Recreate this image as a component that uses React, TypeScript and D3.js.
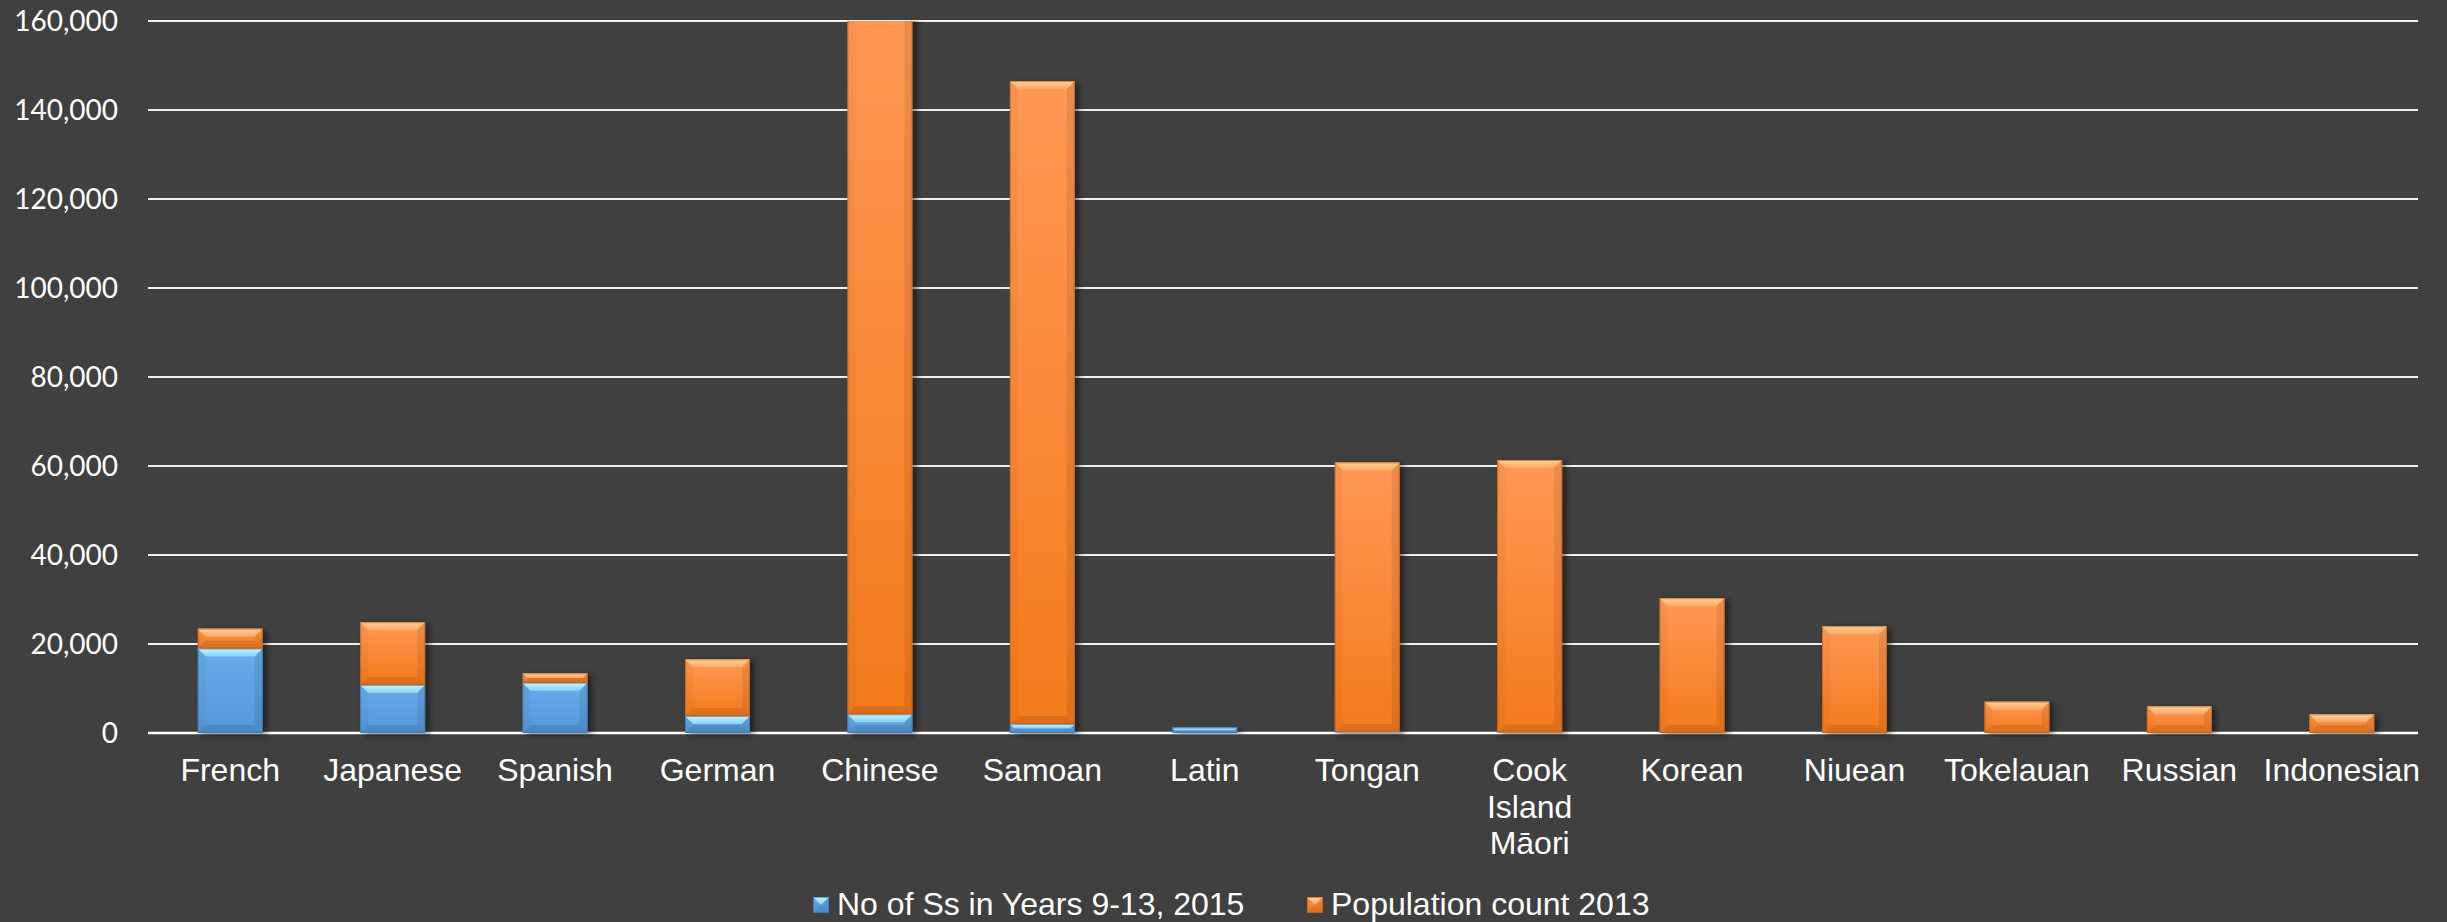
import React from "react";
import * as d3 from "d3";

const categories = [
  "French",
  "Japanese",
  "Spanish",
  "German",
  "Chinese",
  "Samoan",
  "Latin",
  "Tongan",
  "Cook Island Māori",
  "Korean",
  "Niuean",
  "Tokelauan",
  "Russian",
  "Indonesian",
];
const students2015 = [19000, 10800, 11300, 3800, 4200, 2000, 1200, 200, 100, 0, 0, 0, 0, 0];
const population2013 = [4450, 14080, 2100, 12750, 158000, 144500, 0, 60600, 61250, 30300, 24000, 7050, 6000, 4200];
const yTicks = [0, 20000, 40000, 60000, 80000, 100000, 120000, 140000, 160000];
const seriesNames = ["No of Ss in Years 9-13, 2015", "Population count 2013"];

const W = 2447;
const H = 922;
const PLOT_L = 149;
const PLOT_R = 2423;
const GRID_R = 2418;
const Y0 = 733;
const YTOP = 21;
const LABEL_FONT = "32px 'Liberation Sans', Arial, sans-serif";

function wrapLabel(text: string, maxW: number): string[] {
  let ctx: CanvasRenderingContext2D | null = null;
  try {
    ctx = document.createElement("canvas").getContext("2d");
  } catch (e) {
    ctx = null;
  }
  const measure = (s: string) => {
    if (ctx) {
      ctx.font = LABEL_FONT;
      return ctx.measureText(s).width;
    }
    return s.length * 16;
  };
  const words = text.split(" ");
  const lines: string[] = [];
  let cur = "";
  for (const w of words) {
    const trial = cur ? cur + " " + w : w;
    if (cur && measure(trial) > maxW) {
      lines.push(cur);
      cur = w;
    } else {
      cur = trial;
    }
  }
  if (cur) lines.push(cur);
  return lines;
}

type Seg = { x: number; y: number; w: number; h: number; kind: "blue" | "orange" };

function BevelRect({ x, y, w, h, kind }: Seg) {
  const b = Math.min(8, h / 2, w / 2);
  const fill = kind === "blue" ? "url(#gBlue)" : "url(#gOrange)";
  const topFill = kind === "blue" ? "url(#gBlueTop)" : "url(#gOrangeTop)";
  const edge = kind === "blue" ? "#3a6fa8" : "#b85a18";
  const pts = (a: number[][]) => a.map((p) => p.join(",")).join(" ");
  return (
    <g>
      <rect x={x} y={y} width={w} height={h} fill={fill} />
      <polygon points={pts([[x, y], [x + w, y], [x + w - b, y + b], [x + b, y + b]])} fill={topFill} />
      <polygon
        points={pts([[x, y + h], [x + w, y + h], [x + w - b, y + h - b], [x + b, y + h - b]])}
        fill="#000"
        fillOpacity={0.1}
      />
      <polygon points={pts([[x, y], [x + b, y + b], [x + b, y + h - b], [x, y + h]])} fill="#000" fillOpacity={0.03} />
      <polygon
        points={pts([[x + w, y], [x + w - b, y + b], [x + w - b, y + h - b], [x + w, y + h]])}
        fill="#000"
        fillOpacity={0.08}
      />
      <rect x={x + 0.5} y={y + 0.5} width={Math.max(0, w - 1)} height={Math.max(0, h - 1)} fill="none" stroke={edge} strokeOpacity={0.6} strokeWidth={1} />
    </g>
  );
}

export default function App() {
  const x = d3
    .scaleBand<string>()
    .domain(categories)
    .range([PLOT_L, PLOT_R])
    .paddingInner(0.6)
    .paddingOuter(0.3);
  const y = d3.scaleLinear().domain([0, 160000]).range([Y0, YTOP]);
  const fmt = d3.format(",");
  const bw = x.bandwidth();

  const bars = categories.map((c, i) => {
    const segs: Seg[] = [];
    const s = students2015[i];
    const p = population2013[i];
    const bx = x(c) as number;
    if (s > 0) segs.push({ x: bx, y: y(s), w: bw, h: y(0) - y(s), kind: "blue" });
    if (p > 0) segs.push({ x: bx, y: y(s + p), w: bw, h: y(s) - y(s + p), kind: "orange" });
    return { c, segs };
  });

  return (
    <svg
      width={W}
      height={H}
      style={{ position: "absolute", left: 0, top: 0, display: "block" }}
      xmlns="http://www.w3.org/2000/svg"
    >
      <defs>
        <linearGradient id="gOrange" x1="0" y1="0" x2="0" y2="1">
          <stop offset="0" stopColor="#ff9854" />
          <stop offset="1" stopColor="#f47a1c" />
        </linearGradient>
        <linearGradient id="gBlue" x1="0" y1="0" x2="0" y2="1">
          <stop offset="0" stopColor="#68aceb" />
          <stop offset="1" stopColor="#5497db" />
        </linearGradient>
        <linearGradient id="gOrangeTop" x1="0" y1="0" x2="0" y2="1">
          <stop offset="0" stopColor="#ffd29a" />
          <stop offset="1" stopColor="#ffa863" />
        </linearGradient>
        <linearGradient id="gBlueTop" x1="0" y1="0" x2="0" y2="1">
          <stop offset="0" stopColor="#c9f6ff" />
          <stop offset="1" stopColor="#86d2f6" />
        </linearGradient>
        <filter id="shadow" x="-30%" y="-10%" width="160%" height="120%">
          <feDropShadow dx="4" dy="2" stdDeviation="3" floodColor="#000" floodOpacity="0.5" />
        </filter>
        <clipPath id="plotClip">
          <rect x={0} y={y(160000)} width={W} height={H} />
        </clipPath>
      </defs>
      <rect x={0} y={0} width={W} height={H} fill="#404040" />

      {/* gridlines */}
      {yTicks.map((t) => (
        <line
          key={t}
          x1={PLOT_L - 1}
          x2={GRID_R}
          y1={y(t)}
          y2={y(t)}
          stroke={t === 0 ? "#ffffff" : "#f0f0f0"}
          strokeWidth={t === 0 ? 2.5 : 2}
        />
      ))}

      {/* y tick labels */}
      {yTicks.map((t) => (
        <text
          key={"l" + t}
          x={118}
          y={y(t)}
          dy="0.36em"
          textAnchor="end"
          fill="#ffffff"
          style={{ font: "28px Lato, 'Open Sans', sans-serif" }}
        >
          {fmt(t)}
        </text>
      ))}

      {/* bars */}
      <g clipPath="url(#plotClip)">
        {bars.map((b) => (
          <g key={b.c} filter="url(#shadow)">
            {b.segs.map((s, j) => (
              <BevelRect key={j} {...s} />
            ))}
          </g>
        ))}
      </g>

      {/* category labels */}
      {categories.map((c) => {
        const cx = (x(c) as number) + bw / 2;
        const lines = wrapLabel(c, x.step());
        return (
          <text key={"c" + c} x={cx} y={781} textAnchor="middle" fill="#ffffff" style={{ font: LABEL_FONT }}>
            {lines.map((ln, k) => (
              <tspan key={k} x={cx} dy={k === 0 ? 0 : 36.7}>
                {ln}
              </tspan>
            ))}
          </text>
        );
      })}

      {/* legend */}
      {seriesNames.map((name, i) => {
        const lx = i === 0 ? 813 : 1307;
        const kind = i === 0 ? "blue" : "orange";
        return (
          <g key={name}>
            <BevelRect x={lx} y={897} w={16} h={16} kind={kind as any} />
            <text x={lx + 24} y={915} fill="#ffffff" style={{ font: LABEL_FONT }}>
              {name}
            </text>
          </g>
        );
      })}
    </svg>
  );
}
